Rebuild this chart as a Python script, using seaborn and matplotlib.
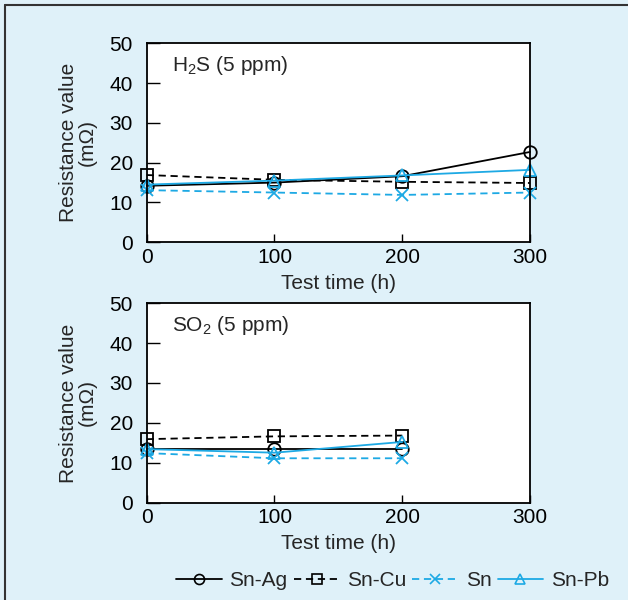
import numpy as np
import pandas as pd
import seaborn as sns
import matplotlib
matplotlib.use("Agg")
import matplotlib.pyplot as plt
from matplotlib.lines import Line2D

sns.set_style("white")
plt.rcParams['font.family'] = ['Liberation Sans', 'DejaVu Sans']
plt.rcParams['mathtext.fontset'] = 'custom'
plt.rcParams['mathtext.rm'] = 'Liberation Sans'
plt.rcParams['mathtext.default'] = 'regular'

# ---- data ----
series = ["Sn-Ag", "Sn-Cu", "Sn", "Sn-Pb"]
times_h2s = [0, 100, 200, 300]
h2s_snag = [14.2, 15.0, 16.6, 22.7]
h2s_sncu = [16.9, 15.7, 15.2, 14.9]
h2s_sn = [13.1, 12.5, 11.9, 12.5]
h2s_snpb = [14.5, 15.5, 16.8, 18.2]

times_so2 = [0, 100, 200]
so2_snag = [13.5, 13.5, 13.5]
so2_sncu = [15.9, 16.6, 16.8]
so2_sn = [12.4, 11.1, 11.1]
so2_snpb = [13.4, 12.5, 15.2]

x_ticks = [0, 100, 200, 300]
y_ticks = [0, 10, 20, 30, 40, 50]

BLUE = "#1DA9E4"
BG = "#DFF1F9"
colors = {"Sn-Ag": "black", "Sn-Cu": "black", "Sn": BLUE, "Sn-Pb": BLUE}
markers = {"Sn-Ag": "o", "Sn-Cu": "s", "Sn": "x", "Sn-Pb": "^"}
styles = {"Sn-Ag": "-", "Sn-Cu": (0, (4, 2.6)), "Sn": (0, (4, 2.6)), "Sn-Pb": "-"}

fig = plt.figure(figsize=(6.28, 6.0), dpi=100, facecolor=BG)
ax1 = fig.add_axes([0.2336, 0.5962, 0.6104, 0.3316])
ax2 = fig.add_axes([0.2336, 0.1625, 0.6104, 0.3320])

FS = 15

panels = [
    (ax1, times_h2s, [h2s_snag, h2s_sncu, h2s_sn, h2s_snpb], "H$_{2}$S (5 ppm)"),
    (ax2, times_so2, [so2_snag, so2_sncu, so2_sn, so2_snpb], "SO$_{2}$ (5 ppm)"),
]

for ax, t, vals, label in panels:
    for name, v in zip(series, vals):
        df = pd.DataFrame({"time": t, "value": v})
        sns.lineplot(data=df, x="time", y="value", ax=ax, color=colors[name],
                     marker=markers[name], markersize=9, markeredgewidth=1.3,
                     markerfacecolor="none", markeredgecolor=colors[name],
                     linewidth=1.3, linestyle=styles[name], clip_on=False)
    ax.set_facecolor("white")
    ax.set_xlim(0, 300)
    ax.set_ylim(0, 50)
    ax.set_xticks(x_ticks)
    ax.set_yticks(y_ticks)
    ax.set_xticklabels([str(v) for v in x_ticks])
    ax.set_yticklabels([str(v) for v in y_ticks])
    ax.tick_params(axis="y", direction="in", length=9.5, width=1.0, pad=10,
                   labelsize=FS, left=True, colors="black")
    ax.tick_params(axis="x", direction="in", length=5.5, width=1.0, pad=4,
                   labelsize=FS, bottom=True, colors="black")
    for s in ax.spines.values():
        s.set_color("black")
        s.set_linewidth(1.3)
    ax.set_xlabel("Test time (h)", fontsize=FS, labelpad=5)
    ax.set_ylabel("Resistance value\n(m\u03A9)", fontsize=FS, labelpad=9, linespacing=1.0)
    ax.text(0.065, 0.86, label, transform=ax.transAxes, fontsize=FS,
            ha="left", va="baseline")

handles = []
for name in series:
    h = Line2D([], [], color=colors[name], marker=markers[name],
               markerfacecolor="none", markersize=7.2, markeredgewidth=1.2,
               linewidth=1.3, linestyle=styles[name])
    handles.append(h)
fig.legend(handles, series, loc="center", bbox_to_anchor=(0.625, 0.032),
           ncol=4, frameon=False, fontsize=FS, handlelength=2.2,
           handletextpad=0.35, columnspacing=0.3)

# figure border (top and left visible)
fig.add_artist(Line2D([5 / 628, 5 / 628], [0, 1 - 5 / 600], transform=fig.transFigure,
                      color="#333333", linewidth=1.5))
fig.add_artist(Line2D([5 / 628, 1], [1 - 5 / 600, 1 - 5 / 600], transform=fig.transFigure,
                      color="#333333", linewidth=1.5))

fig.savefig("out.png", dpi=100, facecolor=BG)
